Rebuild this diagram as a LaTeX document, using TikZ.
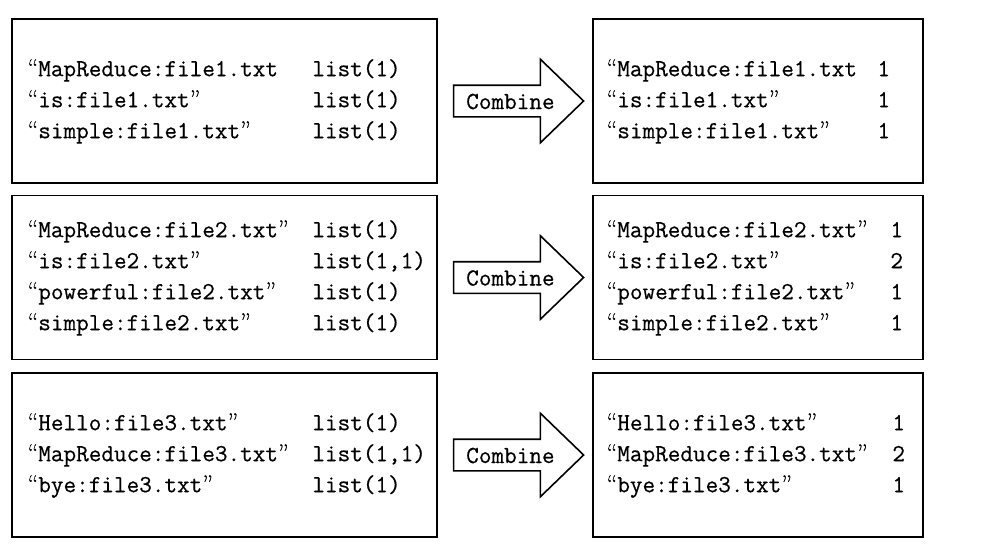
\documentclass[tikz,border=0pt]{standalone}
\usepackage{fontspec}
\usetikzlibrary{positioning,shapes.arrows}
\newfontfamily\rowfamily[FakeBold=0.5]{Latin Modern Mono}
\newfontfamily\quotefamily[FakeBold=0.5]{Latin Modern Roman}
\newcommand{\rowfont}{\rowfamily\fontsize{24.5}{31}\selectfont}
\newcommand{\oq}{\makebox[12.9pt][r]{\quotefamily “}}
\newcommand{\cq}{\makebox[12.9pt][l]{\quotefamily ”}}

\begin{document}
\begin{tikzpicture}
  [x=1pt,y=-1pt,
   box/.style={draw,line width=1.6pt,minimum width=425pt,minimum height=164pt,inner sep=0pt},
   outbox/.style={box,minimum width=330pt},
   rows/.style={anchor=west,inner sep=0pt,font=\rowfont},
   combarrow/.style={draw,line width=1.6pt,single arrow,single arrow head extend=26pt,
     single arrow tip angle=88,minimum height=130pt,inner xsep=0pt,inner ysep=1pt,
     text height=22pt,text depth=6pt,font=\rowfont,anchor=tail},]

\useasboundingbox (0,0) rectangle (984,554);

% boxes and arrows
\foreach \i/\y in {1/101,2/277.5,3/455}
{
  \node[box] (map\i) at (224.5,\y) {};
  \node[outbox] (comb\i) at (758,\y) {};
  \node[combarrow] (arrow\i) at ([xshift=15pt]map\i.east) {Combine};
}

% left side
\node[rows] (maprows1) at ([xshift=14pt]map1.west) {\begin{tabular}{@{}p{287pt}@{}l@{}}
\oq MapReduce:file1.txt & list(1)\\
\oq is:file1.txt\cq & list(1)\\
\oq simple:file1.txt\cq & list(1)
\end{tabular}};
\node[rows] (maprows2) at ([xshift=14pt]map2.west) {\begin{tabular}{@{}p{287pt}@{}l@{}}
\oq MapReduce:file2.txt\cq & list(1)\\
\oq is:file2.txt\cq & list(1,1)\\
\oq powerful:file2.txt\cq & list(1)\\
\oq simple:file2.txt\cq & list(1)
\end{tabular}};
\node[rows] (maprows3) at ([xshift=14pt]map3.west) {\begin{tabular}{@{}p{287pt}@{}l@{}}
\oq Hello:file3.txt\cq & list(1)\\
\oq MapReduce:file3.txt\cq & list(1,1)\\
\oq bye:file3.txt\cq & list(1)
\end{tabular}};

% right side
\node[rows] (combrows1) at ([xshift=12pt]comb1.west) {\begin{tabular}{@{}p{273pt}@{}l@{}}
\oq MapReduce:file1.txt & 1\\
\oq is:file1.txt\cq & 1\\
\oq simple:file1.txt\cq & 1
\end{tabular}};
\node[rows] (combrows2) at ([xshift=12pt]comb2.west) {\begin{tabular}{@{}p{286pt}@{}l@{}}
\oq MapReduce:file2.txt\cq & 1\\
\oq is:file2.txt\cq & 2\\
\oq powerful:file2.txt\cq & 1\\
\oq simple:file2.txt\cq & 1
\end{tabular}};
\node[rows] (combrows3) at ([xshift=12pt]comb3.west) {\begin{tabular}{@{}p{288pt}@{}l@{}}
\oq Hello:file3.txt\cq & 1\\
\oq MapReduce:file3.txt\cq & 2\\
\oq bye:file3.txt\cq & 1
\end{tabular}};

\end{tikzpicture}
\end{document}
